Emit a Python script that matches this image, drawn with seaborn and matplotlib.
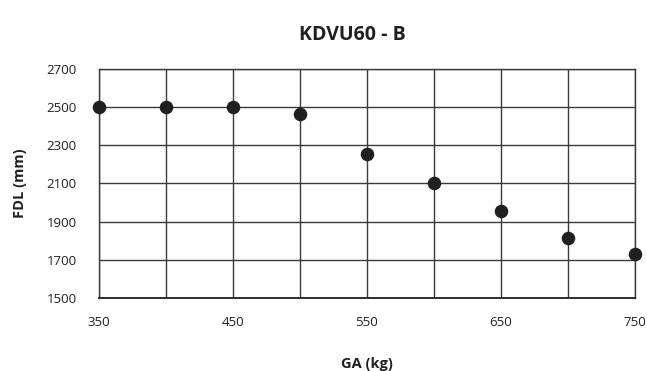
import matplotlib
matplotlib.use("Agg")
import matplotlib.pyplot as plt
import pandas as pd
import seaborn as sns

GA_KG = [350, 400, 450, 500, 550, 600, 650, 700, 750]
FDL_MM = [2500, 2500, 2500, 2465, 2255, 2100, 1955, 1815, 1730]
X_GRID = [350, 400, 450, 500, 550, 600, 650, 700, 750]
X_LABELS = ["350", "", "450", "", "550", "", "650", "", "750"]
Y_TICKS = [1500, 1700, 1900, 2100, 2300, 2500, 2700]

INK = "#231f20"

sns.set_theme(style="white")
plt.rcParams["font.family"] = ["Open Sans", "DejaVu Sans"]

df = pd.DataFrame({"GA": GA_KG, "FDL": FDL_MM})

fig = plt.figure(figsize=(6.47, 3.71), dpi=100)
ax = fig.add_axes([0.153, 0.197, 0.828, 0.617])

sns.scatterplot(data=df, x="GA", y="FDL", ax=ax, color=INK, s=95,
                edgecolor=INK, linewidth=0, zorder=5, clip_on=False)

ax.set_xlim(350, 750)
ax.set_ylim(1500, 2700)
ax.set_xticks(X_GRID)
ax.set_xticklabels(X_LABELS)
ax.set_yticks(Y_TICKS)
ax.grid(True, color="#3a3a3a", linewidth=1.0)
ax.set_axisbelow(True)
for sp in ax.spines.values():
    sp.set_color("#3a3a3a")
    sp.set_linewidth(1.0)
ax.spines["bottom"].set_color(INK)
ax.spines["bottom"].set_linewidth(1.3)

ax.tick_params(axis="both", length=0, labelsize=9.5, colors=INK)
ax.tick_params(axis="x", pad=13)
ax.tick_params(axis="y", pad=16)

ax.set_xlabel("GA (kg)", fontsize=10.5, fontweight="bold", color=INK, labelpad=20)
ax.set_ylabel("FDL (mm)", fontsize=10.5, fontweight="bold", color=INK, labelpad=14)
fig.text(0.545, 0.905, "KDVU60 - B", ha="center", va="center",
         fontsize=14, fontweight="bold", color=INK)

fig.savefig("out.png", dpi=100)
